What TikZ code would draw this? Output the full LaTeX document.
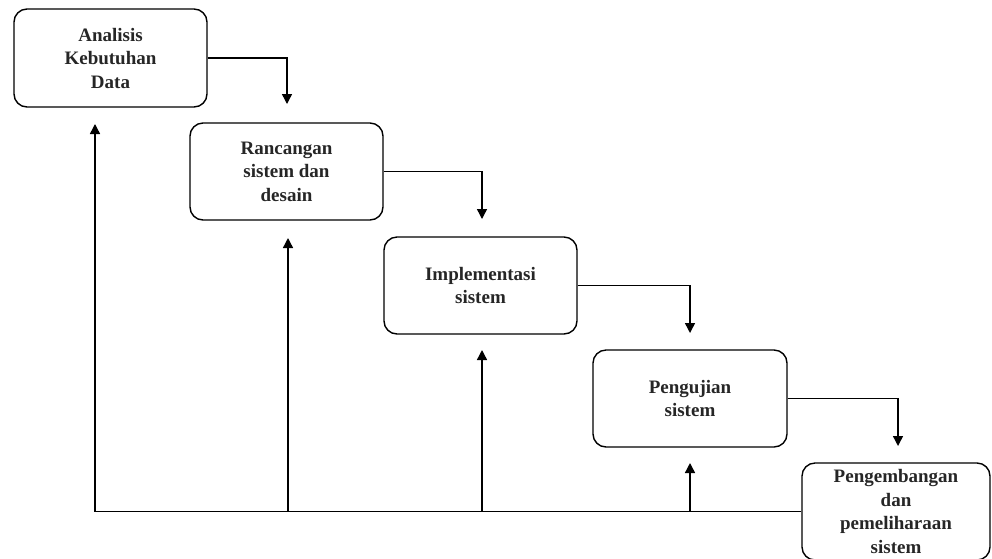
\documentclass[tikz,border=0pt]{standalone}
\usepackage{fontspec}
\setmainfont{Liberation Serif}
\usetikzlibrary{arrows.meta}
\begin{document}
\begin{tikzpicture}[x=1pt,y=-1pt,
  box/.style={draw=black, line width=1.4pt, rounded corners=13pt, align=center,
    text=black!85, font=\fontsize{19}{23.5}\selectfont\bfseries, inner sep=0pt},
  flow/.style={draw=black, line width=1.4pt, -{Triangle[length=10pt,width=10pt]}},
  plain/.style={draw=black, line width=1.4pt}]
\useasboundingbox (0,0) rectangle (992,558);
\node[box, minimum width=193pt, minimum height=98pt] (b1) at (110.5,58) {Analisis\\Kebutuhan\\Data};
\node[box, minimum width=193pt, minimum height=97pt] (b2) at (286.5,171.5) {Rancangan\\sistem dan\\desain};
\node[box, minimum width=193pt, minimum height=97pt] (b3) at (480.5,285.5) {Implementasi\\sistem};
\node[box, minimum width=194pt, minimum height=97pt] (b4) at (690,398.5) {Pengujian\\sistem};
\node[box, minimum width=188pt, minimum height=97pt] (b5) at (896,511.5) {Pengembangan\\dan\\pemeliharaan\\sistem};
% forward arrows ends
\coordinate (t1) at (287,104);
\coordinate (t2) at (482,219);
\coordinate (t3) at (690,333);
\coordinate (t4) at (898,446);
\draw[flow] (b1.east) -| (t1);
\draw[flow] (b2.east) -| (t2);
\draw[flow] (b3.east) -| (t3);
\draw[flow] (b4.east) -| (t4);
% feedback
\coordinate (f1) at (95,511.5);
\coordinate (f2) at (288,511.5);
\coordinate (f3) at (482,511.5);
\coordinate (f4) at (690,511.5);
\coordinate (u1) at (95,124);
\coordinate (u2) at (288,238);
\coordinate (u3) at (482,350);
\coordinate (u4) at (690,463);
\draw[plain] (b5.west) -- (f1);
\draw[flow] (f1) -- (u1);
\draw[flow] (f2) -- (u2);
\draw[flow] (f3) -- (u3);
\draw[flow] (f4) -- (u4);
\end{tikzpicture}
\end{document}
